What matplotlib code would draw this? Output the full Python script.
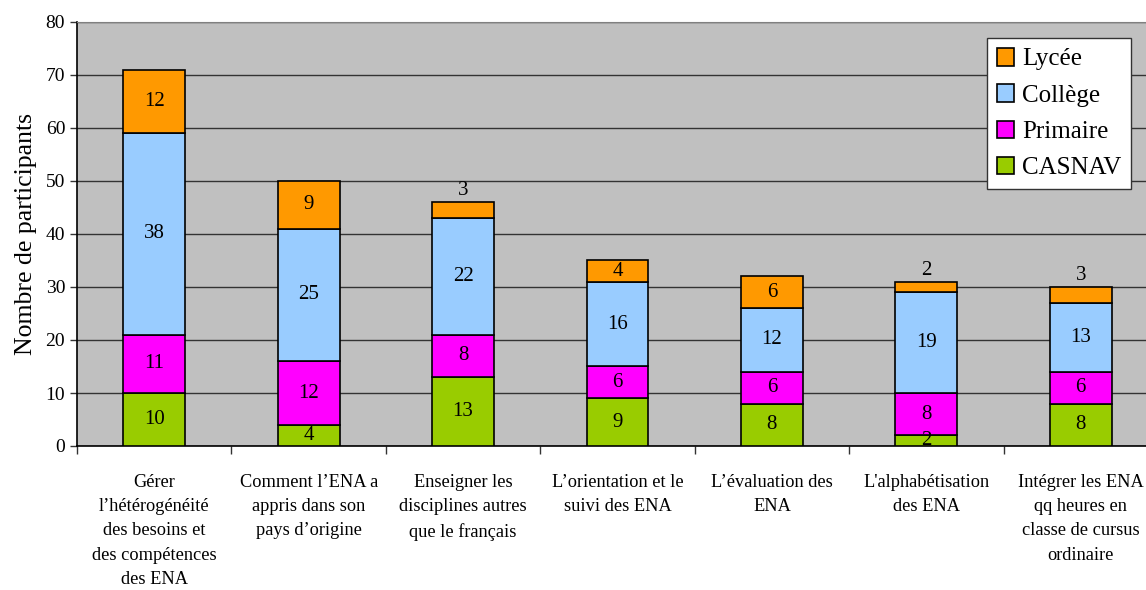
import matplotlib
matplotlib.use("Agg")
import matplotlib.pyplot as plt
import numpy as np

plt.rcParams["font.family"] = ["Liberation Serif", "DejaVu Serif"]

categories = [
    "Gérer\nl\u2019hétérogénéité\ndes besoins et\ndes compétences\ndes ENA",
    "Comment l\u2019ENA a\nappris dans son\npays d\u2019origine",
    "Enseigner les\ndisciplines autres\nque le français",
    "L\u2019orientation et le\nsuivi des ENA",
    "L\u2019évaluation des\nENA",
    "L'alphabétisation\ndes ENA",
    "Intégrer les ENA\nqq heures en\nclasse de cursus\nordinaire",
]
casnav = [10, 4, 13, 9, 8, 2, 8]
primaire = [11, 12, 8, 6, 6, 8, 6]
college = [38, 25, 22, 16, 12, 19, 13]
lycee = [12, 9, 3, 4, 6, 2, 3]

series = [
    ("CASNAV", casnav, "#99CC00"),
    ("Primaire", primaire, "#FF00FF"),
    ("Collège", college, "#99CCFF"),
    ("Lycée", lycee, "#FF9900"),
]

fig = plt.figure(figsize=(11.46, 5.90), dpi=100)
ax = fig.add_axes([77 / 1146, 1 - 446 / 590, (1158 - 77) / 1146, (446 - 22) / 590])
ax.set_facecolor("#C0C0C0")

x = np.arange(len(categories))
bottom = np.zeros(len(categories))
handles = []
for i, (name, vals, col) in enumerate(series):
    vals = np.array(vals)
    bars = ax.bar(x, vals, width=0.4, bottom=bottom, color=col,
                  edgecolor="black", linewidth=1.2, zorder=3, label=name)
    handles.append(bars)
    for xi, v, b in zip(x, vals, bottom):
        top_series = i == len(series) - 1
        if top_series and v < 4:
            ax.text(xi, b + v + 0.4, str(v), ha="center", va="bottom",
                    fontsize=15, zorder=4)
        else:
            ax.text(xi, b + v / 2, str(v), ha="center", va="center",
                    fontsize=15, zorder=4)
    bottom += vals

ax.set_xlim(-0.5, len(categories) - 0.5)
ax.set_ylim(0, 80)
ax.set_yticks(range(0, 81, 10))
ax.yaxis.grid(True, color="#333333", linewidth=1.0, zorder=1)
ax.set_axisbelow(True)

ax.set_xticks(np.arange(len(categories) + 1) - 0.5)
ax.set_xticklabels([])
ax.tick_params(axis="x", direction="out", length=6, width=1, color="#333333")
ax.tick_params(axis="y", direction="out", length=5, width=1, labelsize=14,
               color="#333333")
for xi, lab in zip(x, categories):
    ax.text(xi, -5.3, lab, ha="center", va="top", fontsize=13.2,
            linespacing=1.55, transform=ax.transData, clip_on=False)

ax.set_ylabel("Nombre de participants", fontsize=18.5, labelpad=6)

for s in ["left", "bottom"]:
    ax.spines[s].set_color("black")
    ax.spines[s].set_linewidth(1.2)
for s in ["top", "right"]:
    ax.spines[s].set_color("#808080")

leg = ax.legend(handles[::-1], [s[0] for s in series][::-1],
                loc="upper right", bbox_to_anchor=(1131 / 1146, 1 - 38 / 590),
                bbox_transform=fig.transFigure, fontsize=18, frameon=True,
                fancybox=False, edgecolor="#333333", framealpha=1,
                handlelength=0.7, handleheight=0.7, handletextpad=0.3,
                labelspacing=0.55, borderpad=0.4, borderaxespad=0)
leg.get_frame().set_linewidth(1.0)

fig.savefig("out.png", dpi=100)
